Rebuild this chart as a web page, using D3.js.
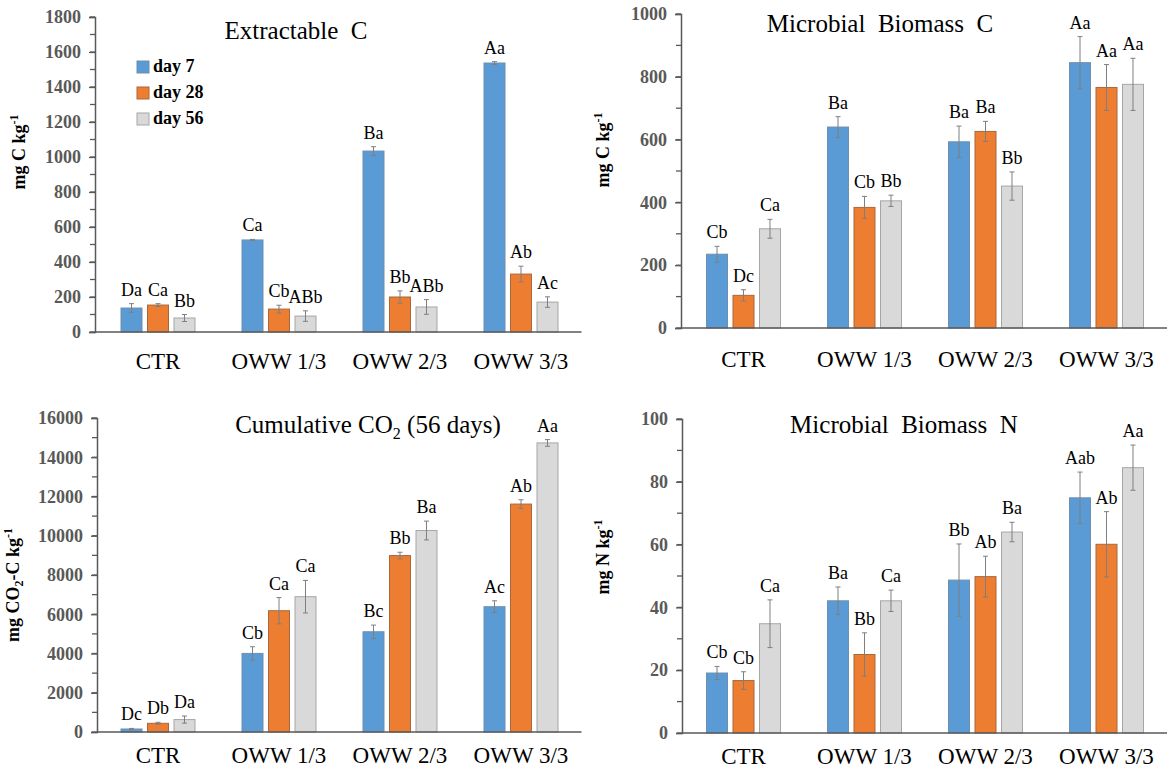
<!DOCTYPE html>
<html>
<head>
<meta charset="utf-8">
<script src="https://cdn.jsdelivr.net/npm/d3@7"></script>
<style>
  body { margin: 0; background: #fff; }
  svg { display: block; }
  svg text { font-family: "Liberation Serif", "Times New Roman", Times, serif !important; }
  .tick-lab { font-weight: bold; fill: #595959; font-size: 18px; }
  .cat { font-size: 23px; fill: #000; }
  .title { font-size: 25px; white-space: pre; }
  .ylab { font-weight: bold; font-size: 18px; }
  .lett { font-size: 18px; }
</style>
</head>
<body>
<div class="canva"></div>
<script>
const categories = ["CTR", "OWW 1/3", "OWW 2/3", "OWW 3/3"];
const seriesNames = ["day 7", "day 28", "day 56"];
const colors = ["#5B9BD5", "#ED7D31", "#D9D9D9"];
const strokes = ["#6f8fae", "#a8683c", "#a6a6a6"];

// Extractable C (mg C kg-1)
const extC_mean = [[137, 526, 1034, 1537], [154, 131, 200, 331], [80, 91, 143, 171]];
const extC_err = [[25, 3, 25, 8], [8, 22, 35, 45], [20, 30, 42, 30]];
const extC_let = [["Da", "Ca", "Ba", "Aa"], ["Ca", "Cb", "Bb", "Ab"], ["Bb", "ABb", "ABb", "Ac"]];

// Microbial biomass C (mg C kg-1)
const mbc_mean = [[235, 640, 593, 845], [104, 384, 626, 766], [316, 405, 452, 776]];
const mbc_err = [[25, 33, 50, 83], [18, 35, 32, 73], [30, 18, 45, 83]];
const mbc_let = [["Cb", "Ba", "Ba", "Aa"], ["Dc", "Cb", "Ba", "Aa"], ["Ca", "Bb", "Bb", "Aa"]];

// Cumulative CO2 (mg CO2-C kg-1)
const co2_mean = [[153, 4004, 5108, 6385], [443, 6180, 8990, 11614], [633, 6895, 10266, 14730]];
const co2_err = [[30, 340, 340, 300], [50, 670, 170, 220], [180, 830, 480, 170]];
const co2_let = [["Dc", "Cb", "Bc", "Ac"], ["Db", "Ca", "Bb", "Ab"], ["Da", "Ca", "Ba", "Aa"]];

// Microbial biomass N (mg N kg-1)
const mbn_mean = [[19.1, 42.1, 48.7, 74.9], [16.7, 25.0, 49.8, 60.1], [34.8, 42.1, 64.0, 84.5]];
const mbn_err = [[2.1, 4.4, 11.5, 8.2], [2.8, 6.9, 6.5, 10.4], [7.6, 3.4, 3.1, 7.2]];
const mbn_let = [["Cb", "Ba", "Bb", "Aab"], ["Cb", "Bb", "Ab", "Ab"], ["Ca", "Ca", "Ba", "Aa"]];

const serif = "'Liberation Serif', 'Times New Roman', serif";

const svg = d3.select(".canva")
	.append("svg")
	.attr("width", 1172)
	.attr("height", 776)
	.style("font-family", serif);

const panels = [
	{ mean: extC_mean, err: extC_err, lett: extC_let, max: 1800, major: 200, minor: 100,
	  axisX: 95, x0: 97.5, x1: 581.5, yTop: 17, yBot: 332, catY: 369,
	  title: ["Extractable  C"], titleX: 296, titleY: 39,
	  ylab: ["mg C kg", "-1"], labX: 25, labY: 152, legend: true },
	{ mean: mbc_mean, err: mbc_err, lett: mbc_let, max: 1000, major: 200, minor: 100,
	  axisX: 681, x0: 683, x1: 1167, yTop: 14, yBot: 328, catY: 367,
	  title: ["Microbial  Biomass  C"], titleX: 880, titleY: 32,
	  ylab: ["mg C kg", "-1"], labX: 609, labY: 150 },
	{ mean: co2_mean, err: co2_err, lett: co2_let, max: 16000, major: 2000, minor: 1000,
	  axisX: 97, x0: 97.5, x1: 581.5, yTop: 418, yBot: 732, catY: 763,
	  title: ["Cumulative CO", "2", " (56 days)"], titleX: 368, titleY: 433,
	  ylab: ["mg CO", "2", "-C kg", "-1"], labX: 19, labY: 585 },
	{ mean: mbn_mean, err: mbn_err, lett: mbn_let, max: 100, major: 20, minor: 10,
	  axisX: 682, x0: 683, x1: 1167, yTop: 419, yBot: 733, catY: 764,
	  title: ["Microbial  Biomass  N"], titleX: 904, titleY: 433,
	  ylab: ["mg N kg", "-1"], labX: 609, labY: 557 }
];

panels.forEach(drawPanel);

function drawPanel(p) {
	const g = svg.append("g");

	const x = d3.scaleBand().domain(categories).range([p.x0, p.x1]);
	const xs = d3.scaleBand().domain(d3.range(3)).range([-37, 37]).paddingInner(0.2075);
	const y = d3.scaleLinear().domain([0, p.max]).range([p.yBot, p.yTop]);

	// minor ticks
	g.selectAll(".minor")
		.data(d3.range(0, p.max + 1, p.minor))
		.enter()
		.append("line")
		.attr("x1", p.axisX - 5)
		.attr("x2", p.axisX)
		.attr("y1", (d) => y(d))
		.attr("y2", (d) => y(d))
		.attr("stroke", "#595959")
		.attr("stroke-width", 1.3);

	// y axis with major ticks
	const yAxis = d3.axisLeft(y)
		.tickValues(d3.range(0, p.max + 1, p.major))
		.tickSize(6)
		.tickPadding(8)
		.tickFormat(d3.format("d"));
	const ax = g.append("g")
		.attr("transform", `translate(${p.axisX},0)`)
		.call(yAxis)
		.attr("font-family", serif)
		.attr("font-size", 18);
	ax.select(".domain").attr("stroke", "#595959").attr("stroke-width", 1.5);
	ax.selectAll(".tick line").attr("stroke", "#595959").attr("stroke-width", 1.3);
	ax.selectAll(".tick text")
		.attr("class", "tick-lab")
		.attr("fill", "#595959")
		.style("font-family", serif);

	// bars
	const bars = [];
	p.mean.forEach((s, si) => s.forEach((v, ci) => {
		bars.push({ si, ci, v, e: p.err[si][ci], l: p.lett[si][ci] });
	}));

	const bx = (d) => x(categories[d.ci]) + x.bandwidth() / 2 + xs(d.si);

	g.selectAll("rect.bar")
		.data(bars)
		.enter()
		.append("rect")
		.attr("class", "bar")
		.attr("x", bx)
		.attr("width", xs.bandwidth())
		.attr("y", (d) => y(d.v))
		.attr("height", (d) => y(0) - y(d.v))
		.attr("fill", (d) => colors[d.si])
		.attr("stroke", (d) => strokes[d.si])
		.attr("stroke-width", 1);

	// error bars
	const eb = g.selectAll("g.err").data(bars).enter().append("g");
	const cx = (d) => bx(d) + xs.bandwidth() / 2;
	eb.append("line")
		.attr("x1", cx).attr("x2", cx)
		.attr("y1", (d) => y(d.v - d.e))
		.attr("y2", (d) => y(d.v + d.e));
	eb.append("line")
		.attr("x1", (d) => cx(d) - 2.5).attr("x2", (d) => cx(d) + 2.5)
		.attr("y1", (d) => y(d.v + d.e)).attr("y2", (d) => y(d.v + d.e));
	eb.append("line")
		.attr("x1", (d) => cx(d) - 2.5).attr("x2", (d) => cx(d) + 2.5)
		.attr("y1", (d) => y(d.v - d.e)).attr("y2", (d) => y(d.v - d.e));
	eb.selectAll("line").attr("stroke", "#7f7f7f").attr("stroke-width", 1);

	// significance letters
	g.selectAll("text.lett")
		.data(bars)
		.enter()
		.append("text")
		.attr("class", "lett")
		.attr("x", cx)
		.attr("y", (d) => y(d.v + d.e) - 8)
		.attr("text-anchor", "middle")
		.text((d) => d.l);

	// baseline
	g.append("line")
		.attr("x1", p.axisX).attr("x2", p.x1)
		.attr("y1", y(0)).attr("y2", y(0))
		.attr("stroke", "#595959")
		.attr("stroke-width", 1.5);

	// category labels
	g.selectAll("text.cat")
		.data(categories)
		.enter()
		.append("text")
		.attr("class", "cat")
		.attr("x", (d) => x(d) + x.bandwidth() / 2)
		.attr("y", p.catY)
		.attr("text-anchor", "middle")
		.text((d) => d);

	// title
	const t = g.append("text")
		.attr("class", "title")
		.attr("x", p.titleX)
		.attr("y", p.titleY)
		.attr("text-anchor", "middle");
	if (p.title.length === 1) {
		t.text(p.title[0]);
	} else {
		t.append("tspan").text(p.title[0]);
		t.append("tspan").attr("dy", 6).attr("font-size", 16).text(p.title[1]);
		t.append("tspan").attr("dy", -6).text(p.title[2]);
	}

	// y label
	const yl = g.append("text")
		.attr("class", "ylab")
		.attr("transform", `translate(${p.labX},${p.labY}) rotate(-90)`)
		.attr("text-anchor", "middle");
	if (p.ylab.length === 2) {
		yl.append("tspan").text(p.ylab[0]);
		yl.append("tspan").attr("dy", -7).attr("font-size", 12).text(p.ylab[1]);
	} else {
		yl.append("tspan").text(p.ylab[0]);
		yl.append("tspan").attr("dy", 4).attr("font-size", 12).text(p.ylab[1]);
		yl.append("tspan").attr("dy", -4).text(p.ylab[2]);
		yl.append("tspan").attr("dy", -7).attr("font-size", 12).text(p.ylab[3]);
	}

	if (p.legend) {
		const lg = g.selectAll("g.leg")
			.data(seriesNames)
			.enter()
			.append("g")
			.attr("transform", (d, i) => `translate(137,${61 + i * 26})`);
		lg.append("rect")
			.attr("width", 12).attr("height", 12)
			.attr("fill", (d, i) => colors[i])
			.attr("stroke", (d, i) => strokes[i]);
		lg.append("text")
			.attr("x", 16).attr("y", 11)
			.attr("font-weight", "bold")
			.attr("font-size", 18)
			.text((d) => d);
	}
}
</script>
</body>
</html>
